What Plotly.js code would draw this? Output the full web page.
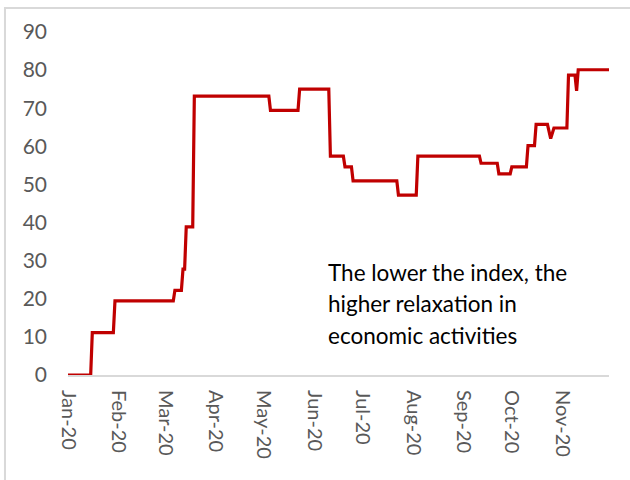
<!DOCTYPE html>
<html>
<head>
<meta charset="utf-8">
<script src="https://cdn.plot.ly/plotly-3.0.1.min.js"></script>
<style>html,body{margin:0;padding:0;background:#fff;overflow:hidden}</style>
</head>
<body>
<div id="chart" style="width:630px;height:480px"></div>
<script>
// Step dates and index values
const dates = [
  "2020-01-01","2020-01-15","2020-01-16","2020-01-29","2020-01-30",
  "2020-03-06","2020-03-07","2020-03-11","2020-03-12","2020-03-13",
  "2020-03-14","2020-03-18","2020-03-19","2020-05-04","2020-05-05",
  "2020-05-22","2020-05-23","2020-06-10","2020-06-11","2020-06-19",
  "2020-06-20","2020-06-24","2020-06-25","2020-07-22","2020-07-23",
  "2020-08-03","2020-08-04","2020-09-11","2020-09-12","2020-09-22",
  "2020-09-23","2020-09-30","2020-10-01","2020-10-10","2020-10-11",
  "2020-10-15","2020-10-16","2020-10-23","2020-10-25","2020-10-27",
  "2020-11-04","2020-11-05","2020-11-09","2020-11-10","2020-11-11",
  "2020-11-30"
];
const values = [
  0, 0, 11.11, 11.11, 19.44,
  19.44, 22.22, 22.22, 27.78, 27.78,
  38.89, 38.89, 73.15, 73.15, 69.44,
  69.44, 75.00, 75.00, 57.41, 57.41,
  54.63, 54.63, 50.93, 50.93, 47.22,
  47.22, 57.41, 57.41, 55.56, 55.56,
  52.78, 52.78, 54.63, 54.63, 60.19,
  60.19, 65.74, 65.74, 62.04, 64.81,
  64.81, 78.70, 78.70, 74.54, 80.09,
  80.09
];
const monthTicks = ["2020-01-01","2020-02-01","2020-03-01","2020-04-01","2020-05-01","2020-06-01",
  "2020-07-01","2020-08-01","2020-09-01","2020-10-01","2020-11-01"];
const monthLabels = ["Jan-20","Feb-20","Mar-20","Apr-20","May-20","Jun-20",
  "Jul-20","Aug-20","Sep-20","Oct-20","Nov-20"];
const yTicks = [0,10,20,30,40,50,60,70,80,90];
const noteLines = ["The lower the index, the","higher relaxation in","economic activities"];
const noteY = [27.0, 18.8, 10.4];

const FONT = "Lato, 'Open Sans', sans-serif";

const trace = {
  x: dates, y: values, type: "scatter", mode: "lines",
  line: {color: "#c00000", width: 3.2, shape: "linear"},
  hoverinfo: "skip"
};

const annotations = noteLines.map((t, i) => ({
  xref: "x", yref: "y", x: "2020-06-08", y: noteY[i],
  xanchor: "left", yanchor: "middle", showarrow: false,
  text: t, font: {family: FONT, size: 22.5, color: "#000000"}
}));

const layout = {
  width: 630, height: 480,
  margin: {l: 68, r: 21, t: 32, b: 105, pad: 0},
  paper_bgcolor: "#ffffff", plot_bgcolor: "#ffffff",
  showlegend: false,
  font: {family: FONT, color: "#595959", size: 20},
  xaxis: {
    type: "date", range: ["2020-01-01","2020-11-30"],
    tickmode: "array", tickvals: monthTicks, ticktext: monthLabels,
    tickangle: 90, ticks: "", showgrid: false, zeroline: false,
    showline: true, linecolor: "#d9d9d9", linewidth: 2,
    ticklabelstandoff: 9,
    tickfont: {family: FONT, size: 20, color: "#595959"}
  },
  yaxis: {
    range: [0, 90], tickmode: "array", tickvals: yTicks,
    ticks: "", showgrid: false, zeroline: false, showline: false,
    ticklabelstandoff: 20,
    tickfont: {family: FONT, size: 21, color: "#595959"}
  },
  shapes: [{
    type: "rect", xref: "paper", yref: "paper",
    x0: -0.1165, x1: 1.3, y0: -0.5, y1: 1.07,
    line: {color: "#d9d9d9", width: 2}, fillcolor: "rgba(0,0,0,0)", layer: "below"
  }],
  annotations: annotations
};

Plotly.newPlot("chart", [trace], layout, {staticPlot: true, displayModeBar: false});
</script>
</body>
</html>
